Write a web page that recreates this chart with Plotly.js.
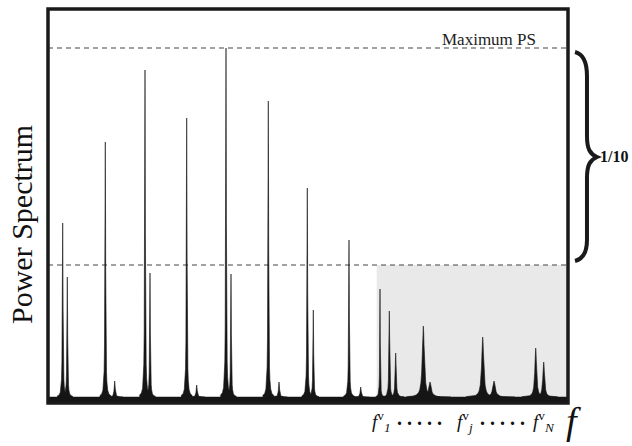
<!DOCTYPE html>
<html>
<head>
<meta charset="utf-8">
<script src="https://cdn.plot.ly/plotly-3.0.1.min.js"></script>
<style>
  html, body { margin: 0; padding: 0; background: #ffffff; }
  #chart { width: 632px; height: 446px; }
</style>
</head>
<body>
<div id="chart"></div>
<script>
// ---- Data (frequency in arbitrary units, power in arbitrary units) ----
const PEAK_FREQ = [14.7, 19.3, 57.3, 66.7, 97, 102, 138.7, 148.7, 178, 183,
                   220.3, 231, 259.3, 265.3, 301, 312.7,
                   332, 341.3, 347.7, 375.3, 382, 434.7, 446, 487.7, 495.7];
const PEAK_POWER = [180, 126, 261, 22, 333, 130, 285, 18, 355, 129,
                    302, 21, 215, 93, 163, 16,
                    114, 92, 50, 77, 21, 66, 22, 55, 41];
const PEAK_WIDTH = [0.4, 0.4, 0.4, 0.6, 0.4, 0.4, 0.4, 0.6, 0.4, 0.4,
                    0.4, 0.6, 0.4, 0.4, 0.4, 0.6,
                    0.3, 0.45, 0.6, 1.2, 1.5, 1.2, 1.5, 1.0, 1.0];
const FLOOR_POWER = 6;
const MAX_PS = 355;
const TENTH_LEVEL = 138;
const SHADED_FROM = 328.7;
const X_RANGE = [0, 520];
const Y_RANGE = [0, 394];

// ---- Peak line-shape template (style constants) ----
const PROFILE_DX   = [-14, -9, -6, -4, -3, -2, -1.4, -1, -0.6, -0.3, 0, 0.3, 0.6, 1, 1.4, 2, 3, 4, 6, 9, 14];
const PROFILE_FRAC = [0.005, 0.012, 0.027, 0.059, 0.1, 0.2, 0.338, 0.5, 0.735, 0.917, 1,
                      0.917, 0.735, 0.5, 0.338, 0.2, 0.1, 0.059, 0.027, 0.012, 0.005];

const traces = [];
traces.push({
  type: 'scatter', mode: 'lines', x: X_RANGE, y: [FLOOR_POWER, FLOOR_POWER],
  fill: 'tozeroy', fillcolor: '#151515', line: {color: '#151515', width: 0.5},
  hoverinfo: 'skip'
});
PEAK_FREQ.forEach((c, i) => {
  const h = PEAK_POWER[i] - FLOOR_POWER;
  traces.push({
    type: 'scatter', mode: 'lines',
    x: PROFILE_DX.map(d => c + d * PEAK_WIDTH[i]),
    y: PROFILE_FRAC.map(f => FLOOR_POWER + h * f),
    fill: 'tozeroy', fillcolor: '#151515',
    line: {color: '#151515', width: 0.6},
    hoverinfo: 'skip'
  });
});

// pixel helpers for decorations outside the plot area
const L = 48, R = 568, T = 9, B = 403;
const PX = p => ((p - L) / (R - L)).toFixed(4);
const PY = p => ((B - p) / (B - T)).toFixed(4);
const P = (x, y) => PX(x) + ',' + PY(y);

const bracePath =
  'M' + P(575, 52) +
  ' C' + P(583, 54) + ' ' + P(587, 61) + ' ' + P(587, 76) +
  ' L' + P(587, 136) +
  ' C' + P(587, 149) + ' ' + P(590, 154) + ' ' + P(597, 157) +
  ' C' + P(590, 160) + ' ' + P(587, 165) + ' ' + P(587, 178) +
  ' L' + P(587, 240) +
  ' C' + P(587, 253) + ' ' + P(583, 259) + ' ' + P(575, 261);

const serif = 'Liberation Serif, Times New Roman, serif';
const dots = '<b>. . . . .</b>';

const layout = {
  width: 632, height: 446,
  margin: {l: L, r: 632 - R, t: T, b: 446 - B, pad: 0},
  paper_bgcolor: '#ffffff', plot_bgcolor: '#ffffff',
  showlegend: false,
  xaxis: {range: X_RANGE, showgrid: false, zeroline: false, showticklabels: false, ticks: '', showline: false, fixedrange: true},
  yaxis: {range: Y_RANGE, showgrid: false, zeroline: false, showticklabels: false, ticks: '', showline: false, fixedrange: true},
  shapes: [
    {type: 'rect', xref: 'x', yref: 'y', x0: SHADED_FROM, x1: X_RANGE[1], y0: 0, y1: TENTH_LEVEL,
     fillcolor: '#e9e9e9', line: {width: 0}, layer: 'below'},
    {type: 'line', xref: 'x', yref: 'y', x0: X_RANGE[0], x1: X_RANGE[1], y0: MAX_PS, y1: MAX_PS,
     line: {color: '#444444', width: 1.2, dash: '5px,4px'}, layer: 'below'},
    {type: 'line', xref: 'x', yref: 'y', x0: X_RANGE[0], x1: X_RANGE[1], y0: TENTH_LEVEL, y1: TENTH_LEVEL,
     line: {color: '#444444', width: 1.2, dash: '5px,4px'}, layer: 'below'},
    {type: 'rect', xref: 'paper', yref: 'paper', x0: 0, x1: 1, y0: 0, y1: 1,
     line: {color: '#1a1a1a', width: 3.5}, fillcolor: 'rgba(0,0,0,0)', layer: 'above'},
    {type: 'path', xref: 'paper', yref: 'paper', path: bracePath,
     line: {color: '#1a1a1a', width: 4}, layer: 'above'}
  ],
  annotations: [
    {text: 'Maximum PS', xref: 'paper', yref: 'paper', x: PX(538), y: PY(39.5), xanchor: 'right', yanchor: 'middle',
     showarrow: false, font: {family: serif, size: 17, color: '#222'}},
    {text: '<b>1/10</b>', xref: 'paper', yref: 'paper', x: PX(598), y: PY(157), xanchor: 'left', yanchor: 'middle',
     showarrow: false, font: {family: serif, size: 16, color: '#111'}},
    {text: 'Power Spectrum', xref: 'paper', yref: 'paper', x: PX(22), y: PY(225), xanchor: 'center', yanchor: 'middle',
     textangle: -90, showarrow: false, font: {family: serif, size: 30, color: '#111'}},
    {text: '<i>f</i><sup>v</sup><sub><i>1</i></sub>', xref: 'paper', yref: 'paper', x: PX(381), y: PY(421), xanchor: 'center', yanchor: 'middle',
     showarrow: false, font: {family: serif, size: 19, color: '#111'}},
    {text: dots, xref: 'paper', yref: 'paper', x: PX(419), y: PY(418), xanchor: 'center', yanchor: 'middle',
     showarrow: false, font: {family: serif, size: 20, color: '#111'}},
    {text: '<i>f</i><sup>v</sup><sub><i>j</i></sub>', xref: 'paper', yref: 'paper', x: PX(465), y: PY(421), xanchor: 'center', yanchor: 'middle',
     showarrow: false, font: {family: serif, size: 19, color: '#111'}},
    {text: dots, xref: 'paper', yref: 'paper', x: PX(502), y: PY(418), xanchor: 'center', yanchor: 'middle',
     showarrow: false, font: {family: serif, size: 20, color: '#111'}},
    {text: '<i>f</i><sup>v</sup><sub><i>N</i></sub>', xref: 'paper', yref: 'paper', x: PX(544), y: PY(421), xanchor: 'center', yanchor: 'middle',
     showarrow: false, font: {family: serif, size: 19, color: '#111'}},
    {text: '<i>f</i>', xref: 'paper', yref: 'paper', x: PX(574), y: PY(421), xanchor: 'center', yanchor: 'middle',
     showarrow: false, font: {family: serif, size: 38, color: '#111'}}
  ]
};

Plotly.newPlot('chart', traces, layout, {staticPlot: true, displayModeBar: false});
</script>
</body>
</html>
